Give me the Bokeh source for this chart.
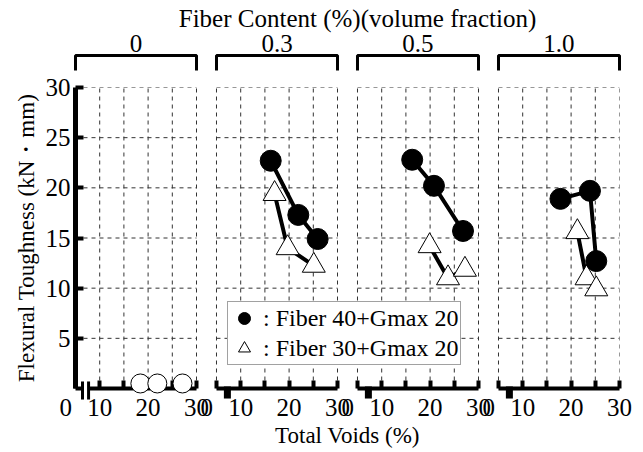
from bokeh.plotting import figure
from bokeh.models import Range1d, FixedTicker, Legend, LegendItem
from bokeh.core.properties import value
from bokeh.embed import file_html
from bokeh.resources import INLINE

FONT = "Liberation Serif"
FS_TICK = "25px"
FS_LABEL = "23px"
FS_TITLE = "25px"
FS_LEG = "24px"

# ---------------- data ----------------
fiber_content = ["0", "0.3", "0.5", "1.0"]
title_text = "Fiber Content (%)(volume fraction)"
x_label = "Total Voids (%)"
y_label = "Flexural Toughness (kN・mm)"
series_labels = [": Fiber 40+Gmax 20", ": Fiber 30+Gmax 20"]

x_ticks = [5, 10, 15, 20, 25, 30]
x_tick_text = {5: "", 10: "10", 15: "", 20: "20", 25: "", 30: "30"}
x_zero_text = "0"
y_ticks = [5, 10, 15, 20, 25, 30]

# fiber 0 (plain) - open circles
plain_voids = [18.4, 21.9, 27.1]
plain_tough = [0.5, 0.5, 0.5]

# Fiber 40 + Gmax 20 (filled circles), for fiber content 0.3, 0.5, 1.0
f40_voids = [[16.2, 21.9, 25.9], [16.3, 20.8, 26.8], [17.8, 23.9, 25.2]]
f40_tough = [[22.7, 17.3, 14.9], [22.8, 20.2, 15.7], [18.9, 19.7, 12.7]]
# Fiber 30 + Gmax 20 (open triangles)
f30_voids = [[17.0, 19.7, 25.1], [19.9, 23.7, 27.2], [21.3, 23.2, 25.2]]
f30_tough = [[19.4, 14.0, 12.25], [14.2, 11.0, 11.85], [15.6, 11.0, 9.9]]

# ---------------- layout ----------------
X_LO, X_HI = 5, 30          # each panel's x range
Y_LO, Y_HI = 0, 30
STEP = 29.13                # panel pitch in data units (panel + gap)
offs = [k * STEP for k in range(4)]
ZERO_POS = 3.0
BREAK = (6.45, 7.7)
BLOCK = 7.25

p = figure(frame_width=544, frame_height=301,
           x_range=Range1d(X_LO, X_HI + offs[-1]), y_range=Range1d(Y_LO, Y_HI),
           output_backend="svg", toolbar_location=None,
           min_border_left=75, min_border_right=24, min_border_top=87, min_border_bottom=64,
           outline_line_color=None, background_fill_color="white")
p.xgrid.visible = False
p.ygrid.visible = False

# grid (dashed) per panel
hx0, hx1, hy = [], [], []
for off in offs:
    for t in y_ticks:
        hx0.append(X_LO + off); hx1.append(X_HI + off); hy.append(t)
p.segment(x0=hx0, x1=hx1, y0=hy, y1=hy, line_color="#333333", line_width=1,
          line_dash="4 4", level="underlay")
vx, vy0, vy1 = [], [], []
for k, off in enumerate(offs):
    for t in x_ticks:
        if k == 0 and t == X_LO:
            continue
        vx.append(t + off); vy0.append(Y_LO); vy1.append(Y_HI)
p.segment(x0=vx, x1=vx, y0=vy0, y1=vy1, line_color="#333333", line_width=1,
          line_dash="4 4", level="underlay")

# data
line_kw = dict(line_color="black", line_width=4)
r40 = r30 = None
for k in range(3):
    off = offs[k + 1]
    xs40 = [v + off for v in f40_voids[k]]
    xs30 = [v + off for v in f30_voids[k]]
    p.line(xs30, f30_tough[k], **line_kw)
    p.line(xs40, f40_tough[k], **line_kw)
    r30 = p.scatter(xs30, f30_tough[k], marker="triangle", size=23,
                    fill_color="white", line_color="black", line_width=1)
    r40 = p.scatter(xs40, f40_tough[k], marker="circle", size=21,
                    fill_color="black", line_color="black")

# x axis
xa = p.xaxis[0]
ticks = [t + off for off in offs for t in x_ticks]
xa.ticker = FixedTicker(ticks=ticks)
xa.major_label_overrides = {t + off: x_tick_text[t] for off in offs for t in x_ticks}
xa.axis_line_color = None
xa.major_tick_in = 8
xa.major_tick_out = 0
xa.major_tick_line_width = 4
xa.major_tick_line_color = "black"
xa.minor_tick_line_color = None
xa.major_label_standoff = 10
xa.major_label_text_font = FONT
xa.major_label_text_font_size = FS_TICK
xa.major_label_text_color = "black"
xa.axis_label = x_label
xa.axis_label_text_font = FONT
xa.axis_label_text_font_size = FS_LABEL
xa.axis_label_text_font_style = "normal"
xa.axis_label_text_color = "black"
xa.axis_label_standoff = 4

# y axis
ya = p.yaxis[0]
ya.ticker = FixedTicker(ticks=y_ticks)
ya.axis_line_width = 5
ya.axis_line_color = "black"
ya.major_tick_in = 8
ya.major_tick_out = 0
ya.major_tick_line_width = 4
ya.minor_tick_line_color = None
ya.major_label_standoff = 5
ya.major_label_text_font = FONT
ya.major_label_text_font_size = FS_TICK
ya.major_label_text_color = "black"
ya.axis_label = y_label
ya.axis_label_text_font = FONT
ya.axis_label_text_font_size = FS_LABEL
ya.axis_label_text_font_style = "normal"
ya.axis_label_text_color = "black"
ya.axis_label_standoff = 4

# x axis line segments (with breaks) per panel
ax0 = [X_LO, BREAK[1]] + [X_LO + off for off in offs[1:]]
ax1 = [BREAK[0], X_HI] + [X_HI + off for off in offs[1:]]
p.segment(x0=ax0, x1=ax1, y0=[0] * len(ax0), y1=[0] * len(ax0),
          line_color="black", line_width=4, level="overlay")
p.segment(x0=list(BREAK), x1=list(BREAK), y0=[-1.1, -1.1], y1=[0.7, 0.7],
          line_color="black", line_width=3, level="overlay")
bx = [BLOCK + off for off in offs[1:]]
p.segment(x0=bx, x1=bx, y0=[-1.0] * 3, y1=[0.2] * 3,
          line_color="black", line_width=7, level="overlay")

# plain concrete open circles (sit on the axis)
p.scatter(plain_voids, plain_tough, marker="circle", size=19, fill_color="white",
          line_color="black", line_width=1, level="overlay")

# "0" labels left of each panel
p.text(x=[ZERO_POS + off for off in offs], y=[0] * 4, text=[x_zero_text] * 4,
       text_font=value(FONT), text_font_size=FS_TICK, text_align="center",
       text_baseline="top", y_offset=10, text_color="black", level="overlay")

# top brackets and panel labels
bxs = [[X_LO + off, X_LO + off, X_HI + off, X_HI + off] for off in offs]
bys = [[31.7, 33.2, 33.2, 31.7] for _ in offs]
p.multi_line(xs=bxs, ys=bys, line_color="black", line_width=3, level="overlay")
p.text(x=[(X_LO + X_HI) / 2 + off for off in offs], y=[34.4] * 4, text=fiber_content,
       text_font=value(FONT), text_font_size=FS_TITLE, text_align="center",
       text_baseline="middle", text_color="black", level="overlay")
p.text(x=[(X_LO + X_HI + offs[-1]) / 2], y=[36.9], text=[title_text],
       text_font=value(FONT), text_font_size=FS_TITLE, text_align="center",
       text_baseline="middle", x_offset=10, text_color="black", level="overlay")

legend = Legend(items=[LegendItem(label=series_labels[0], renderers=[r40]),
                       LegendItem(label=series_labels[1], renderers=[r30])],
                location=(152, 23), orientation="vertical",
                glyph_width=30, glyph_height=30, label_height=30,
                label_standoff=4, padding=1, spacing=0, margin=0,
                label_text_font=FONT, label_text_font_size=FS_LEG,
                label_text_color="black",
                border_line_color="#444444", border_line_width=1,
                background_fill_color="white", background_fill_alpha=1)
p.add_layout(legend, "center")

open("out.html", "w").write(file_html(p, INLINE))
